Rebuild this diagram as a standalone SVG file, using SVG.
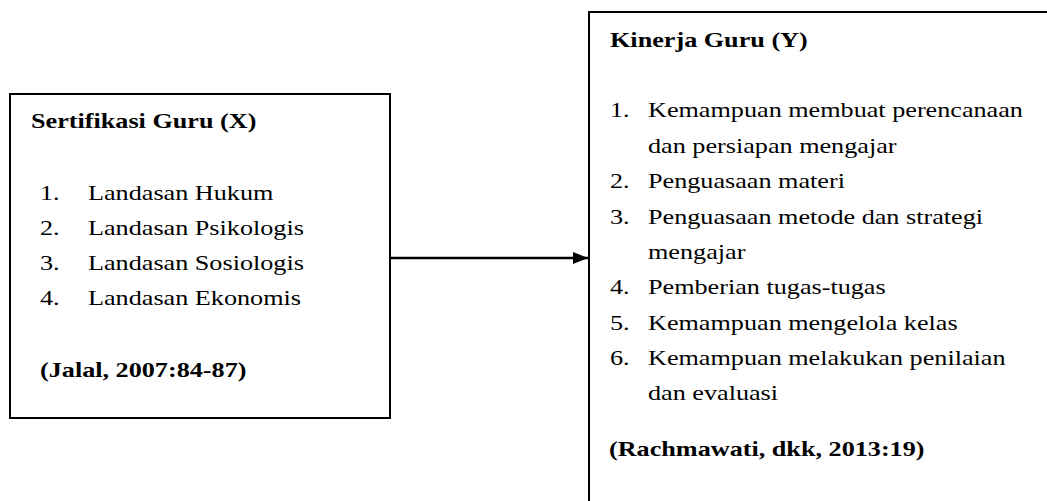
<svg xmlns="http://www.w3.org/2000/svg" width="1047" height="501" viewBox="0 0 1047 501">
<style>
.box{fill:#fff;stroke:#000;stroke-width:2}
text{font-family:"Liberation Serif","Times New Roman",serif;font-size:22px;fill:#000}
.b{font-weight:bold}
.conn{stroke:#000;stroke-width:2.5;fill:none}
</style>
<defs>
<marker id="ah" markerWidth="15" markerHeight="12" refX="15" refY="6" orient="auto" markerUnits="userSpaceOnUse">
<path d="M0,0 L15,6 L0,12 Z" fill="#000"/>
</marker>
</defs>
<rect width="1047" height="501" fill="#fff"/>
<g id="connectors">
<line class="conn" x1="390" y1="258" x2="588" y2="258" marker-end="url(#ah)"/>
</g>
<g id="node-x">
<rect class="box" x="10" y="94" width="380" height="324"/>
<text class="b" transform="translate(31,128) scale(1.19,1)">Sertifikasi Guru (X)</text>
<text transform="translate(40,200) scale(1.19,1)">1.</text>
<text transform="translate(88,200) scale(1.19,1)">Landasan Hukum</text>
<text transform="translate(40,235) scale(1.19,1)">2.</text>
<text transform="translate(88,235) scale(1.19,1)">Landasan Psikologis</text>
<text transform="translate(40,270) scale(1.19,1)">3.</text>
<text transform="translate(88,270) scale(1.19,1)">Landasan Sosiologis</text>
<text transform="translate(40,305) scale(1.19,1)">4.</text>
<text transform="translate(88,305) scale(1.19,1)">Landasan Ekonomis</text>
<text class="b" transform="translate(40,377) scale(1.19,1)">(Jalal, 2007:84-87)</text>
</g>
<g id="node-y">
<rect class="box" x="589" y="12" width="500" height="520"/>
<text class="b" transform="translate(610,46.5) scale(1.19,1)">Kinerja Guru (Y)</text>
<text transform="translate(610,117) scale(1.19,1)">1.</text>
<text transform="translate(648,117) scale(1.19,1)">Kemampuan membuat perencanaan</text>
<text transform="translate(648,152.5) scale(1.19,1)">dan persiapan mengajar</text>
<text transform="translate(610,188) scale(1.19,1)">2.</text>
<text transform="translate(648,188) scale(1.19,1)">Penguasaan materi</text>
<text transform="translate(610,223.5) scale(1.19,1)">3.</text>
<text transform="translate(648,223.5) scale(1.19,1)">Penguasaan metode dan strategi</text>
<text transform="translate(648,259) scale(1.19,1)">mengajar</text>
<text transform="translate(610,294) scale(1.19,1)">4.</text>
<text transform="translate(648,294) scale(1.19,1)">Pemberian tugas-tugas</text>
<text transform="translate(610,329.5) scale(1.19,1)">5.</text>
<text transform="translate(648,329.5) scale(1.19,1)">Kemampuan mengelola kelas</text>
<text transform="translate(610,365) scale(1.19,1)">6.</text>
<text transform="translate(648,365) scale(1.19,1)">Kemampuan melakukan penilaian</text>
<text transform="translate(648,400) scale(1.19,1)">dan evaluasi</text>
<text class="b" transform="translate(609,456) scale(1.19,1)">(Rachmawati, dkk, 2013:19)</text>
</g>
</svg>
